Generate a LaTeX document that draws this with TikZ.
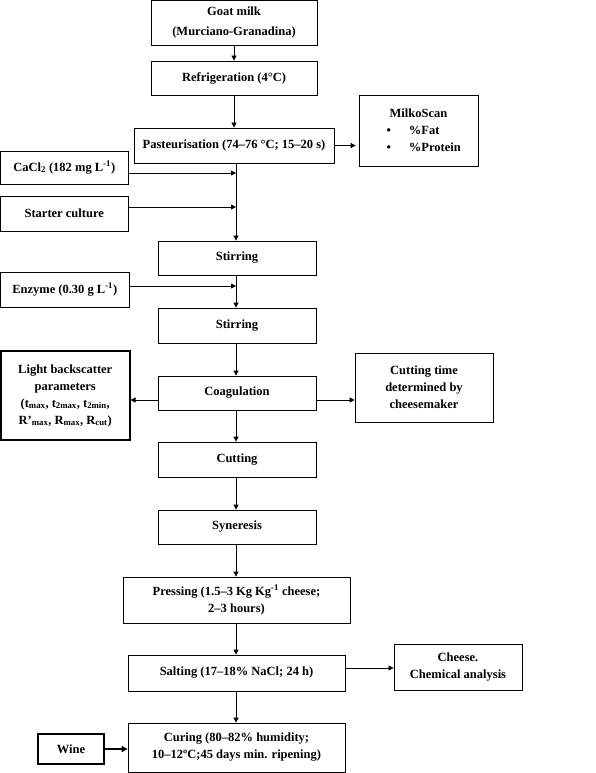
\documentclass[tikz,border=0pt]{standalone}
\usepackage{fontspec}
\setmainfont{Liberation Serif}
\usetikzlibrary{arrows.meta}
\begin{document}
\begin{tikzpicture}[x=1pt,y=-1pt,
  box/.style={draw, line width=0.8pt, align=center, inner sep=0pt,
    font=\bfseries\fontsize{12.5}{17}\selectfont},
  thickbox/.style={box, line width=1.5pt},
  arr/.style={-{Triangle[length=5pt,width=5pt]}, line width=0.8pt},
  thickarr/.style={-{Triangle[length=6pt,width=6pt]}, line width=1.6pt}]
\useasboundingbox (0,0) rectangle (595,773);
% main column
\node[box, minimum width=166pt, minimum height=45pt, font=\bfseries\fontsize{12.5}{20}\selectfont] (goat) at (234,22.5) {Goat milk\\(Murciano-Granadina)};
\node[box, minimum width=166pt, minimum height=34pt] (refr) at (234,78) {Refrigeration (4°C)};
\node[box, minimum width=200pt, minimum height=35pt] (past) at (234,145.5) {Pasteurisation (74–76 °C; 15–20 s)};
\node[box, minimum width=158pt, minimum height=34pt] (stir1) at (237,258) {Stirring};
\node[box, minimum width=158pt, minimum height=35pt] (stir2) at (237,325.5) {Stirring};
\node[box, minimum width=158pt, minimum height=34pt] (coag) at (237,393) {Coagulation};
\node[box, minimum width=158pt, minimum height=35pt] (cut) at (237,459.5) {Cutting};
\node[box, minimum width=158pt, minimum height=34pt] (syn) at (237,527) {Syneresis};
\node[box, minimum width=227pt, minimum height=46pt] (press) at (236.5,600) {Pressing (1.5–3 Kg Kg\textsuperscript{-1} cheese;\\2–3 hours)};
\node[box, minimum width=217pt, minimum height=36pt] (salt) at (236.5,673) {Salting (17–18\% NaCl; 24 h)};
\node[box, minimum width=217pt, minimum height=49pt] (cur) at (236.5,747.5) {Curing (80–82\% humidity;\\10–12ºC;45 days min. ripening)};
% side boxes
\node[box, minimum width=119pt, minimum height=71pt] (milko) at (418.5,130.5) {MilkoScan\\\makebox[88pt][l]{\hspace{12pt}\textbullet\hspace{18pt}\%Fat}\\\makebox[88pt][l]{\hspace{12pt}\textbullet\hspace{18pt}\%Protein}};
\node[box, minimum width=127.5pt, minimum height=33pt] (cacl) at (64.25,167.5) {CaCl\textsubscript{2} (182 mg L\textsuperscript{-1})};
\node[box, minimum width=127.5pt, minimum height=35pt] (start) at (64.25,213.5) {Starter culture};
\node[box, minimum width=128.5pt, minimum height=35pt] (enz) at (64.75,289.5) {Enzyme (0.30 g L\textsuperscript{-1})};
\node[thickbox, minimum width=129pt, minimum height=89pt] (light) at (65.25,395.5) {Light backscatter\\parameters\\(t\textsubscript{max}, t\textsubscript{2max}, t\textsubscript{2min},\\R’\textsubscript{max}, R\textsubscript{max}, R\textsubscript{cut})};
\node[box, minimum width=138pt, minimum height=69pt] (ctime) at (424,387.5) {Cutting time\\determined by\\cheesemaker};
\node[box, minimum width=128pt, minimum height=46pt] (chem) at (458,667) {Cheese.\\Chemical analysis};
\node[thickbox, minimum width=66pt, minimum height=30pt] (wine) at (71,749) {Wine};
% junction coordinates on main line
\coordinate (j1) at (236,173);
\coordinate (j2) at (236,207);
\coordinate (j3) at (236,286);
% main flow
\draw[arr] (goat.south) -- (goat.south |- refr.north);
\draw[arr] (refr.south) -- (refr.south |- past.north);
\draw[arr] (past.south -| j1) -- (j1 |- stir1.north);
\draw[arr] (cacl.east |- j1) -- (j1);
\draw[arr] (start.east |- j2) -- (j2);
\draw[arr] (stir1.south -| j3) -- (j3 |- stir2.north);
\draw[arr] (enz.east |- j3) -- (j3);
\draw[arr] (stir2.south -| j3) -- (j3 |- coag.north);
\draw[arr] (coag.south -| j3) -- (j3 |- cut.north);
\draw[arr] (cut.south -| j3) -- (j3 |- syn.north);
\draw[arr] (syn.south -| j3) -- (j3 |- press.north);
\draw[arr] (press.south -| j3) -- (j3 |- salt.north);
\draw[arr] (salt.south -| j3) -- (j3 |- cur.north);
% side flows
\draw[arr] (past.east) -- ([xshift=-3pt]milko.west |- past.east);
\draw[arr] ([yshift=-7pt]coag.west) -- ([yshift=-7pt]coag.west -| light.east);
\draw[arr] ([yshift=-7pt]coag.east) -- ([yshift=-7pt]coag.east -| ctime.west);
\draw[arr] ([yshift=5pt]salt.east) -- ([yshift=5pt]salt.east -| chem.west);
\draw[thickarr] (wine.east) -- (wine.east -| cur.west);
\end{tikzpicture}
\end{document}
